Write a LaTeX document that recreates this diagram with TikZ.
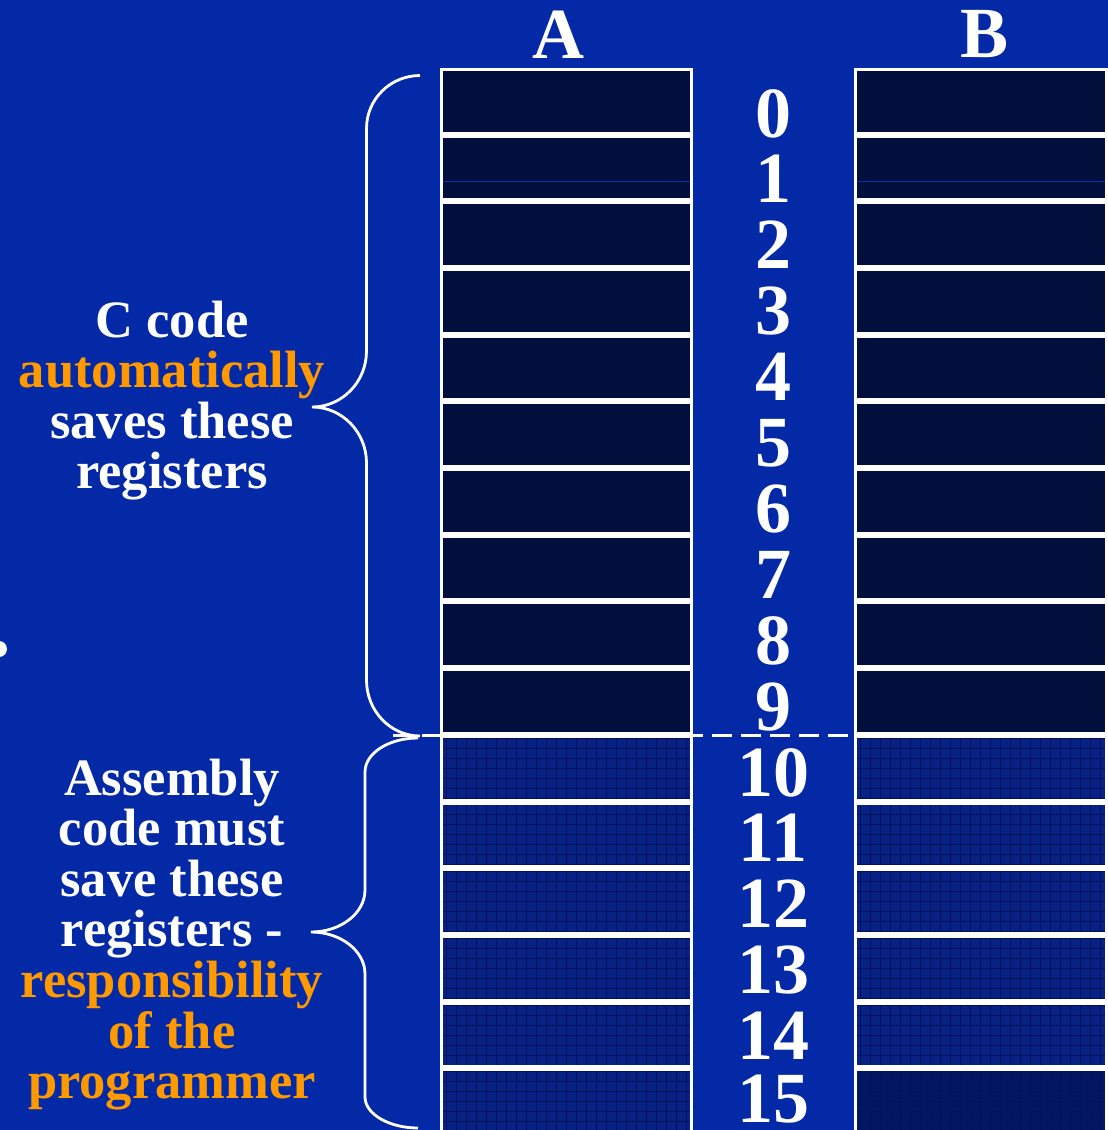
\documentclass[tikz,border=0pt]{standalone}
\usepackage{fontspec}
\setmainfont{Liberation Serif}
\definecolor{bg}{RGB}{4,41,166}
\definecolor{celldark}{RGB}{0,15,60}
\definecolor{cellgrid}{RGB}{8,33,132}
\definecolor{celllast}{RGB}{3,22,98}
\definecolor{gridline}{RGB}{2,18,88}
\definecolor{orng}{RGB}{255,153,0}
\definecolor{seam}{RGB}{14,48,165}
\begin{document}
\begin{tikzpicture}[x=1pt,y=-1pt,
  lbl/.style={text=white,font=\bfseries\fontsize{72}{72}\selectfont,inner sep=0pt,anchor=base},
  txt/.style={text=white,font=\bfseries\fontsize{52.5}{52.5}\selectfont,inner sep=0pt,anchor=base},
  hl/.style={text=orng},
  regbox/.style={draw=white,line width=3pt,fill=celldark,inner sep=0pt,minimum height=63.7pt},
  gridbox/.style={regbox,fill=#1,path picture={\draw[gridline,line width=0.8pt]
      (path picture bounding box.south west) grid[step=10pt] (path picture bounding box.north east);}},
  colA/.style={minimum width=249.5pt},
  colB/.style={minimum width=251.5pt},
  brc/.style={draw=white,line width=2.8pt},
  sepline/.style={draw=white,line width=3pt,dash pattern=on 20pt off 9pt}]
\useasboundingbox (0,0) rectangle (1108,1130);
\clip (0,0) rectangle (1108,1130);
\fill[bg] (0,0) rectangle (1108,1130);

% column headings
\node[lbl] (hA) at (558,58) {A};
\node[lbl] (hB) at (985,57) {B};

% registers 0-9
\foreach \k in {0,...,9}{
  \pgfmathsetmacro\yc{67.8+66.7*\k+33.35}
  \node[regbox,colA] (A\k) at (566.25,\yc) {};
  \node[regbox,colB] (B\k) at (980.75,\yc) {};
}
% registers 10-15
\foreach \k in {10,...,14}{
  \pgfmathsetmacro\yc{67.8+66.7*\k+33.35}
  \node[gridbox=cellgrid,colA] (A\k) at (566.25,\yc) {};
  \node[gridbox=cellgrid,colB] (B\k) at (980.75,\yc) {};
}
\pgfmathsetmacro\yl{67.8+66.7*15+33.35}
\node[gridbox=cellgrid,colA] (A15) at (566.25,\yl) {};
\node[gridbox=celllast,colB] (B15) at (980.75,\yl) {};

% faint seam inside register 1
\draw[seam,line width=1pt] (443,181.5) -- (689.5,181.5);
\draw[seam,line width=1pt] (856.5,181.5) -- (1105,181.5);

% register numbers
\foreach \k in {0,...,14}{
  \node[lbl] (N\k) at (773,137+66*\k-0.1*\k) {\k};
}
\node[lbl] (N15) at (773,1122.5) {15};

% dashed separator
\coordinate (dL) at (393,735);
\coordinate (dR) at (856,735);
\draw[sepline] (dL) -- (dR);

% upper brace
\draw[brc] (420,75.5) .. controls (390.5,75.5) and (366.5,99) .. (366.5,128.5)
  -- (366.5,351) .. controls (366.5,382) and (342,407) .. (312,407)
  .. controls (342,407) and (366.5,432) .. (366.5,463)
  -- (366.5,680) .. controls (366.5,711) and (390.5,736) .. (420,736);

% lower brace
\draw[brc] (418,738) .. controls (389,738) and (365,753) .. (365,772)
  -- (365,890) .. controls (365,913) and (341,932) .. (311,932)
  .. controls (341,932) and (365,951) .. (365,974)
  -- (365,1097) .. controls (365,1114) and (389,1128) .. (418,1128);

% left texts
\node[txt] (t1) at (172,337) {C code};
\node[txt,hl] (t2) at (172,387.6) {automatically};
\node[txt] (t3) at (172,438.2) {saves these};
\node[txt] (t4) at (172,488.8) {registers};

\node[txt] (s1) at (172,795) {Assembly};
\node[txt] (s2) at (172,845.6) {code must};
\node[txt] (s3) at (172,896.2) {save these};
\node[txt] (s4) at (172,946.8) {registers -};
\node[txt,hl] (s5) at (172,997.4) {responsibility};
\node[txt,hl] (s6) at (172,1048) {of the};
\node[txt,hl] (s7) at (172,1098.6) {programmer};

% bullet remnant at left edge
\fill[white] (-1,649) circle[radius=8pt];
\end{tikzpicture}
\end{document}
